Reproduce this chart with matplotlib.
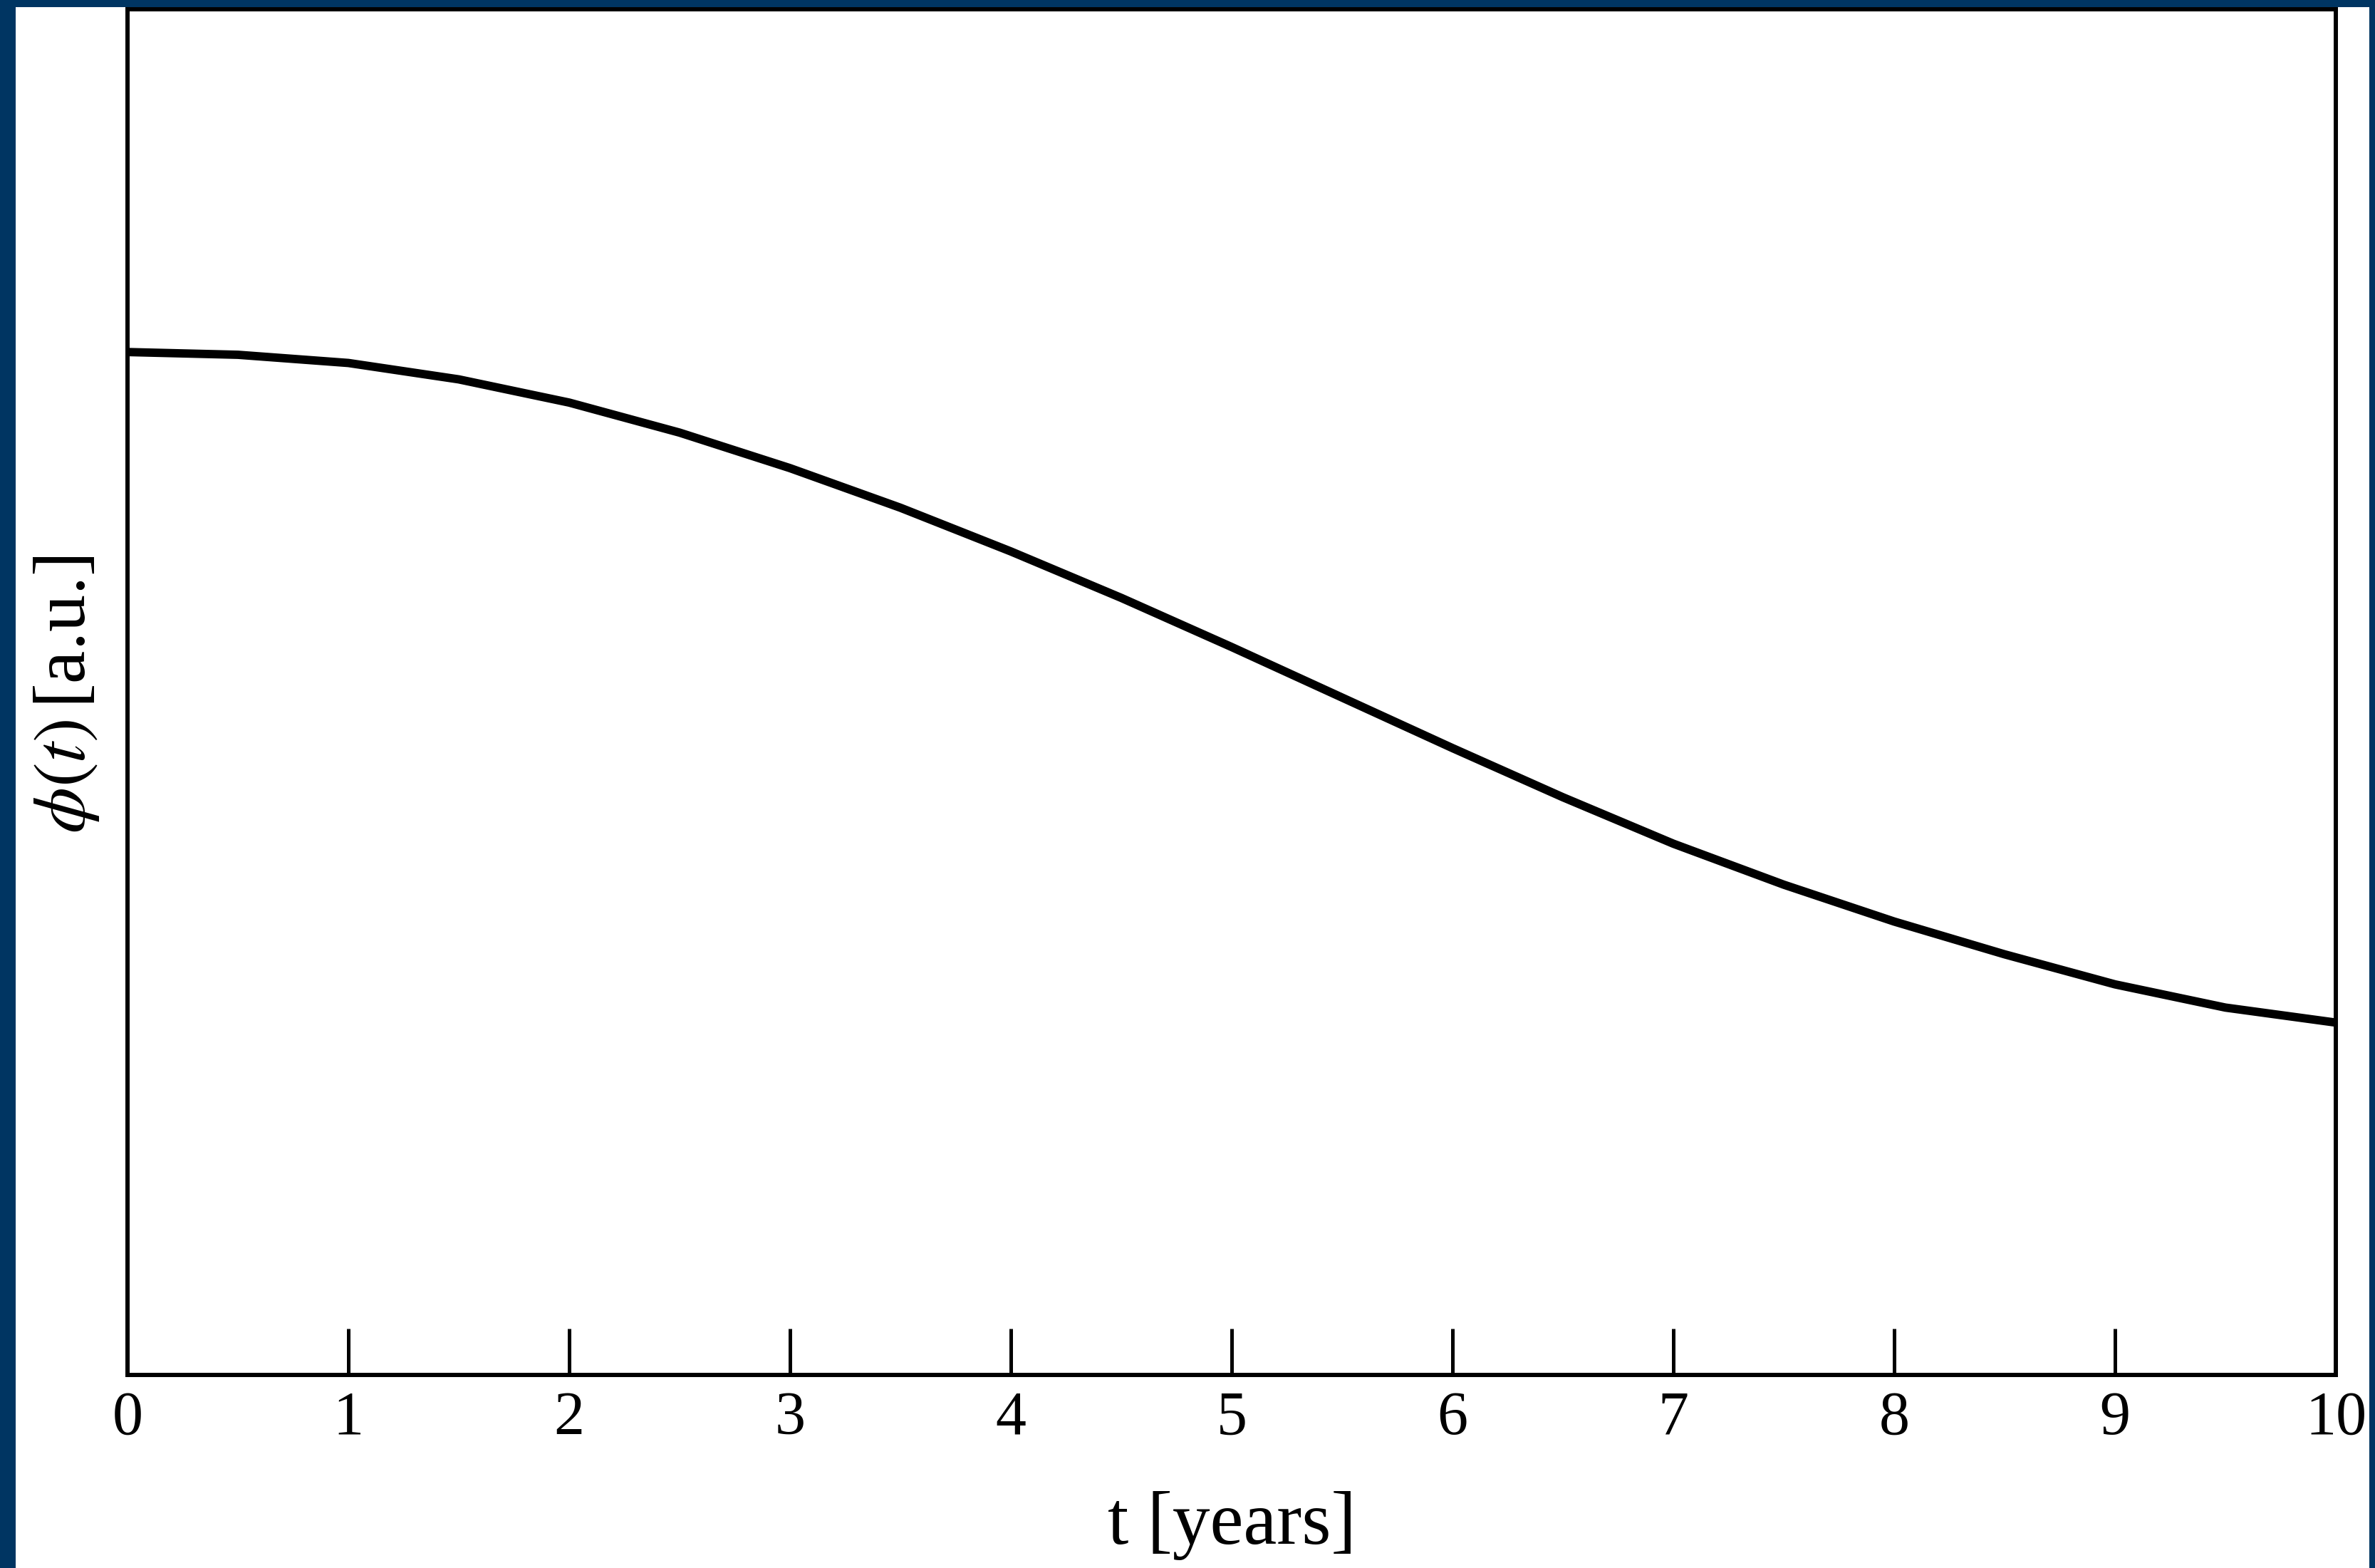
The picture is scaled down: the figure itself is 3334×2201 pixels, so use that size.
import matplotlib
matplotlib.use("Agg")
import matplotlib.pyplot as plt
from matplotlib.patches import Rectangle

# curve (y in arbitrary units, axes span 0..1)
t_years = [0.0, 0.5, 1.0, 1.5, 2.0, 2.5, 3.0, 3.5, 4.0, 4.5, 5.0,
           5.5, 6.0, 6.5, 7.0, 7.5, 8.0, 8.5, 9.0, 9.5, 10.0]
phi_vals = [0.749, 0.747, 0.741, 0.729, 0.712, 0.690, 0.664, 0.635, 0.603, 0.569, 0.533,
            0.496, 0.459, 0.423, 0.389, 0.359, 0.332, 0.308, 0.286, 0.269, 0.258]
x_ticks = [0, 1, 2, 3, 4, 5, 6, 7, 8, 9, 10]
x_ticklabels = ["0", "1", "2", "3", "4", "5", "6", "7", "8", "9", "10"]

plt.rcParams['font.family'] = ['Liberation Serif', 'DejaVu Serif']
plt.rcParams['mathtext.fontset'] = 'stix'

W, H, DPI = 3334, 2201, 100
fig = plt.figure(figsize=(W / DPI, H / DPI), dpi=DPI, facecolor='#003562')

# white page inside the navy frame (kept behind the axes)
page = Rectangle((22 / W, 0), (3326 - 22) / W, (H - 10) / H,
                 transform=fig.transFigure, facecolor='white',
                 edgecolor='none', zorder=-10)
fig.patches.append(page)

ax = fig.add_axes([179 / W, (H - 1930) / H, (3279 - 179) / W, (1930 - 13) / H])
ax.set_facecolor('white')
ax.set_zorder(1)

ax.plot(t_years, phi_vals, color='black', lw=8.5, solid_joinstyle='round')

ax.set_xlim(0, 10)
ax.set_ylim(0, 1)
ax.set_xticks(x_ticks)
ax.set_xticklabels(x_ticklabels)
ax.set_yticks([])
ax.tick_params(axis='x', direction='in', length=47, width=3.6, pad=16,
               labelsize=62, color='black')
for sp in ax.spines.values():
    sp.set_linewidth(4.3)
    sp.set_color('black')

ax.set_xlabel('t [years]', fontsize=76)
ax.xaxis.set_label_coords(0.5, -0.085)
ax.set_ylabel(r'$\phi(t)\,$[a.u.]', fontsize=75)
ax.yaxis.set_label_coords(-0.0118, 0.498)

fig.savefig('out.png', dpi=DPI, facecolor=fig.get_facecolor())
